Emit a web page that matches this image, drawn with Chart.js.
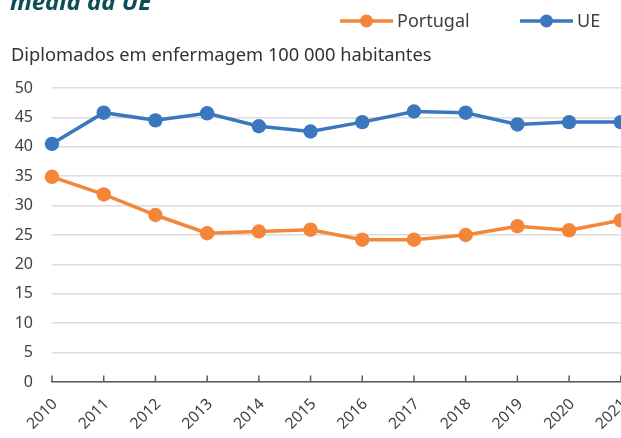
<!DOCTYPE html>
<html>
<head>
<meta charset="utf-8">
<script src="https://cdn.jsdelivr.net/npm/chart.js@4.4.1/dist/chart.umd.min.js"></script>
<style>
  html, body { margin: 0; padding: 0; background: #fff; overflow: hidden; }
  #wrap { position: relative; width: 628px; height: 438px; }
  #title { position: absolute; left: 10px; top: -16px; font: italic bold 24px "Noto Sans"; color: #0d4d58; white-space: nowrap; }
  #sub { position: absolute; left: 11px; top: 41px; font: 18.3px "Noto Sans"; color: #333; white-space: nowrap; }
</style>
</head>
<body>
<div id="wrap">
  <canvas id="chart"></canvas>
  <div id="title">média da UE</div>
  <div id="sub">Diplomados em enfermagem 100 000 habitantes</div>
</div>
<script>
const years = ['2010', '2011', '2012', '2013', '2014', '2015', '2016', '2017', '2018', '2019', '2020', '2021'];
const portugal = [34.9, 31.9, 28.4, 25.3, 25.6, 25.9, 24.2, 24.2, 25.0, 26.5, 25.8, 27.5];
const ue = [40.5, 45.8, 44.5, 45.7, 43.5, 42.6, 44.2, 46.0, 45.8, 43.8, 44.2, 44.2];
const yMin = 0, yMax = 50, yStep = 5;

const FONT = '"Noto Sans", sans-serif';
const TEXT = '#404040';
const AXIS = '#595959';

// legend drawn as line + dot, like the original
const topLegend = {
    id: 'topLegend',
    afterDraw(chart) {
        const ctx = chart.ctx;
        const starts = [340, 520];
        const y = 21;
        ctx.save();
        chart.data.datasets.forEach((ds, i) => {
            const x0 = starts[i];
            ctx.strokeStyle = ds.borderColor;
            ctx.lineWidth = ds.borderWidth;
            ctx.beginPath();
            ctx.moveTo(x0, y);
            ctx.lineTo(x0 + 53, y);
            ctx.stroke();
            ctx.fillStyle = ds.borderColor;
            ctx.beginPath();
            ctx.arc(x0 + 26.5, y, 6.5, 0, Math.PI * 2);
            ctx.fill();
            ctx.fillStyle = TEXT;
            ctx.font = '18px ' + FONT;
            ctx.textBaseline = 'middle';
            ctx.fillText(ds.label, x0 + 57, y + 1);
        });
        ctx.restore();
    }
};

// small tick marks pointing up from the x axis
const upTicks = {
    id: 'upTicks',
    afterDraw(chart) {
        const x = chart.scales.x;
        const ctx = chart.ctx;
        const bottom = chart.chartArea.bottom;
        ctx.save();
        ctx.strokeStyle = AXIS;
        ctx.lineWidth = 1.5;
        x.ticks.forEach((t, i) => {
            const px = x.getPixelForTick(i);
            ctx.beginPath();
            ctx.moveTo(px, bottom);
            ctx.lineTo(px, bottom - 6.5);
            ctx.stroke();
        });
        ctx.restore();
    }
};

function makeSeries(label, data, color) {
    return {
        label,
        data,
        borderColor: color,
        backgroundColor: color,
        borderWidth: 3.5,
        pointRadius: 7.2,
        pointHoverRadius: 7.2,
        pointBorderWidth: 0,
        pointBackgroundColor: color,
        tension: 0,
        clip: false,
    };
}

new Chart(document.getElementById('chart'), {
    type: 'line',
    data: {
        labels: years,
        datasets: [
            makeSeries('Portugal', portugal, '#f4863a'),
            makeSeries('UE', ue, '#3a77bf'),
        ]
    },
    options: {
        responsive: true,
        maintainAspectRatio: false,
        animation: false,
        layout: { padding: { top: 88, left: 0, right: 0, bottom: 0 } },
        plugins: {
            legend: { display: false },
            tooltip: { enabled: false },
        },
        scales: {
            x: {
                offset: false,
                grid: { display: false, drawTicks: false },
                border: { display: true, color: AXIS, width: 1.5 },
                ticks: {
                    color: TEXT,
                    font: { family: FONT, size: 15.5 },
                    minRotation: 45,
                    maxRotation: 45,
                    padding: 13,
                    labelOffset: 3,
                },
                afterFit: s => { s.height = 56; s.paddingLeft = 0; s.paddingRight = 0; }
            },
            y: {
                min: yMin,
                max: yMax,
                grid: { color: '#dcdcdc', lineWidth: 1.5, drawTicks: false },
                border: { display: false },
                ticks: {
                    stepSize: yStep,
                    color: TEXT,
                    font: { family: FONT, size: 16 },
                    padding: 19,
                },
                afterFit: s => { s.width = 52; s.paddingTop = 0; s.paddingBottom = 0; }
            }
        }
    },
    plugins: [topLegend, upTicks]
});
</script>
</body>
</html>
